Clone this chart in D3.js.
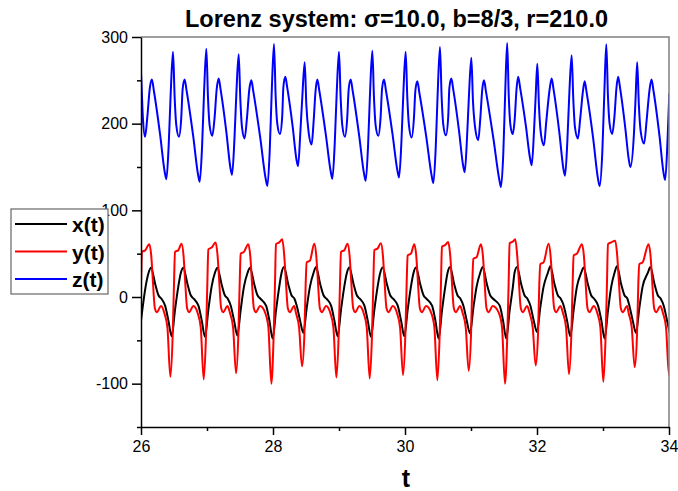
<!DOCTYPE html>
<html>
<head>
<meta charset="utf-8">
<script src="https://cdn.jsdelivr.net/npm/d3@7"></script>
<style>
  body { margin: 0; background: #fff; }
  svg { font-family: "Liberation Sans", Arial, sans-serif; }
</style>
</head>
<body>
<script>
// values, [t, value]
const xSeries = [
  [25.970,-45],[26.020,-15],[26.070,12],[26.115,28],[26.152,33.8],[26.215,15],[26.265,2],[26.310,-2],[26.365,-10],[26.415,-27],
  [26.465,-45.4],[26.515,-15],[26.565,12],[26.604,28],[26.641,33.8],[26.704,15],[26.754,2],[26.799,-2],[26.870,-10],[26.920,-27],
  [26.970,-46],[27.020,-15],[27.070,12],[27.120,28],[27.157,33.8],[27.220,15],[27.270,2],[27.315,-2],[27.360,-10],[27.410,-27],
  [27.460,-44.6],[27.510,-15],[27.560,12],[27.615,28],[27.652,33.8],[27.715,15],[27.765,2],[27.810,-2],[27.895,-10],[27.945,-27],
  [27.995,-48],[28.045,-16],[28.095,12],[28.130,28],[28.167,34.6],[28.230,15],[28.280,2],[28.325,-2],[28.360,-10],[28.410,-27],
  [28.460,-41.5],[28.510,-13],[28.560,12],[28.615,28],[28.652,34.6],[28.715,15],[28.765,2],[28.810,-2],[28.880,-10],[28.930,-27],
  [28.980,-45.4],[29.030,-15],[29.080,12],[29.120,28],[29.157,34],[29.220,15],[29.270,2],[29.315,-2],[29.385,-10],[29.435,-27],
  [29.485,-46],[29.535,-15],[29.585,12],[29.625,28],[29.662,34],[29.725,15],[29.775,2],[29.820,-2],[29.890,-10],[29.940,-27],
  [29.990,-45.4],[30.040,-15],[30.090,12],[30.130,28],[30.167,34],[30.230,15],[30.280,2],[30.325,-2],[30.410,-10],[30.460,-27],
  [30.510,-48],[30.560,-16],[30.610,12],[30.645,28],[30.682,34.6],[30.745,15],[30.795,2],[30.840,-2],[30.885,-10],[30.935,-27],
  [30.985,-42],[31.035,-13],[31.085,12],[31.140,28],[31.177,34.6],[31.240,15],[31.290,2],[31.335,-2],[31.435,-10],[31.485,-27],
  [31.535,-48],[31.585,-16],[31.635,12],[31.660,28],[31.697,34.6],[31.760,15],[31.810,2],[31.855,-2],[31.900,-10],[31.950,-27],
  [32.000,-40.4],[32.050,-12],[32.100,12],[32.165,28],[32.202,35.4],[32.265,15],[32.315,2],[32.360,-2],[32.405,-10],[32.455,-27],
  [32.505,-45.4],[32.555,-15],[32.605,12],[32.670,28],[32.707,34],[32.770,15],[32.820,2],[32.865,-2],[32.925,-10],[32.975,-27],
  [33.025,-48],[33.075,-16],[33.125,12],[33.175,28],[33.212,35.4],[33.275,15],[33.325,2],[33.370,-2],[33.400,-10],[33.450,-27],
  [33.500,-41.5],[33.550,-13],[33.600,12],[33.680,28],[33.717,34.6],[33.780,15],[33.830,2],[33.875,-2],[33.920,-10],[33.970,-27],
  [34.020,-45]
];

const ySeries = [
  [25.900,-35],[25.945,-90],[25.980,-44],[26.000,15],[26.015,52],[26.065,54],[26.125,61],[26.155,48],[26.175,25],[26.210,-13],[26.240,-17.5],[26.305,-10.5],[26.355,-19],
  [26.400,-35],[26.445,-92],[26.480,-44],[26.500,15],[26.515,52],[26.565,54],[26.614,61.5],[26.644,48],[26.664,25],[26.699,-13],[26.729,-17.5],[26.794,-10.5],[26.860,-19],
  [26.905,-35],[26.950,-95],[26.985,-44],[27.005,15],[27.020,55],[27.070,57],[27.130,63],[27.160,48],[27.180,25],[27.215,-13],[27.245,-17.5],[27.310,-10.5],[27.350,-19],
  [27.395,-35],[27.440,-88],[27.475,-44],[27.495,15],[27.510,50],[27.560,52],[27.625,61],[27.655,48],[27.675,25],[27.710,-13],[27.740,-17.5],[27.805,-10.5],[27.885,-19],
  [27.930,-35],[27.975,-100],[28.010,-44],[28.030,15],[28.045,61],[28.095,63],[28.140,66.5],[28.170,48],[28.190,25],[28.225,-13],[28.255,-17.5],[28.320,-10.5],[28.350,-19],
  [28.395,-35],[28.440,-80],[28.475,-44],[28.495,15],[28.510,40],[28.560,42],[28.625,61.5],[28.655,48],[28.675,25],[28.710,-13],[28.740,-17.5],[28.805,-10.5],[28.870,-19],
  [28.915,-35],[28.960,-93],[28.995,-44],[29.015,15],[29.030,52],[29.080,54],[29.130,61.5],[29.160,48],[29.180,25],[29.215,-13],[29.245,-17.5],[29.310,-10.5],[29.375,-19],
  [29.420,-35],[29.465,-94],[29.500,-44],[29.520,15],[29.535,54],[29.585,56],[29.635,62],[29.665,48],[29.685,25],[29.720,-13],[29.750,-17.5],[29.815,-10.5],[29.880,-19],
  [29.925,-35],[29.970,-90],[30.005,-44],[30.025,15],[30.040,48],[30.090,50],[30.140,61],[30.170,48],[30.190,25],[30.225,-13],[30.255,-17.5],[30.320,-10.5],[30.400,-19],
  [30.445,-35],[30.490,-96],[30.525,-44],[30.545,15],[30.560,58],[30.610,60],[30.655,63.5],[30.685,48],[30.705,25],[30.740,-13],[30.770,-17.5],[30.835,-10.5],[30.875,-19],
  [30.920,-35],[30.965,-85],[31.000,-44],[31.020,15],[31.035,44],[31.085,46],[31.150,61],[31.180,48],[31.200,25],[31.235,-13],[31.265,-17.5],[31.330,-10.5],[31.425,-19],
  [31.470,-35],[31.515,-100],[31.550,-44],[31.570,15],[31.585,62],[31.635,64],[31.670,66.5],[31.700,48],[31.720,25],[31.755,-13],[31.785,-17.5],[31.850,-10.5],[31.890,-19],
  [31.935,-35],[31.980,-79],[32.015,-44],[32.035,15],[32.050,38],[32.100,40],[32.175,61.5],[32.205,48],[32.225,25],[32.260,-13],[32.290,-17.5],[32.355,-10.5],[32.395,-19],
  [32.440,-35],[32.485,-89],[32.520,-44],[32.540,15],[32.555,48],[32.605,50],[32.680,61],[32.710,48],[32.730,25],[32.765,-13],[32.795,-17.5],[32.860,-10.5],[32.915,-19],
  [32.960,-35],[33.005,-98],[33.040,-44],[33.060,15],[33.075,61],[33.125,63],[33.185,65],[33.215,48],[33.235,25],[33.270,-13],[33.300,-17.5],[33.365,-10.5],[33.390,-19],
  [33.435,-35],[33.480,-81],[33.515,-44],[33.535,15],[33.550,38],[33.600,40],[33.690,61],[33.720,48],[33.740,25],[33.775,-13],[33.805,-17.5],[33.870,-10.5],[33.910,-19],
  [33.955,-35],[34.000,-90],[34.035,-44]
];

const zSeries = [
  [25.930,180],[25.950,235],[25.980,285],[26.005,250],[26.030,205],[26.062,185],[26.095,207],[26.135,242],[26.165,251],[26.195,238],[26.290,187],[26.360,144],[26.385,136],
  [26.420,176],[26.450,235],[26.485,283],[26.510,230],[26.535,198],[26.575,185],[26.610,207],[26.631,240],[26.661,251],[26.691,238],[26.791,185.5],[26.865,141],[26.890,133],
  [26.925,173],[26.955,235],[26.990,286.5],[27.015,230],[27.040,198],[27.080,186],[27.115,207],[27.147,240],[27.177,252],[27.207,239],[27.294,190],[27.355,149],[27.380,141],
  [27.415,181],[27.445,235],[27.480,280],[27.505,228],[27.530,196],[27.570,183],[27.605,206],[27.642,240],[27.672,250],[27.702,237],[27.809,182.5],[27.890,136],[27.915,128],
  [27.950,168],[27.980,235],[28.015,292],[28.040,232],[28.065,200],[28.105,188],[28.140,209],[28.157,242],[28.187,254],[28.217,241],[28.299,196],[28.355,159],[28.380,151],
  [28.415,191],[28.445,232],[28.480,271],[28.505,222],[28.540,190],[28.585,176],[28.615,202],[28.645,238],[28.672,251],[28.702,238],[28.801,187],[28.875,144.5],[28.900,136.5],
  [28.935,176.5],[28.965,235],[29.000,283],[29.025,230],[29.050,198],[29.090,185],[29.125,207],[29.147,240],[29.177,251],[29.207,238],[29.306,186],[29.380,142],[29.405,134],
  [29.440,174],[29.470,235],[29.505,284],[29.530,230],[29.555,198],[29.595,186],[29.630,207],[29.652,240],[29.682,251],[29.712,238],[29.811,188],[29.885,146],[29.910,138],
  [29.945,178],[29.975,235],[30.010,283],[30.035,230],[30.060,198],[30.100,184],[30.135,206],[30.157,238],[30.187,249],[30.217,236],[30.324,184],[30.405,139.5],[30.430,131.5],
  [30.465,171.5],[30.495,235],[30.530,288.5],[30.555,231],[30.580,199],[30.620,186.5],[30.655,208],[30.672,241],[30.702,252],[30.732,239],[30.819,191.5],[30.880,152],[30.905,144],
  [30.940,184],[30.970,234],[31.005,276],[31.030,226],[31.065,194],[31.110,181],[31.140,205],[31.170,239],[31.197,250],[31.227,237],[31.341,182],[31.430,135],[31.455,127],
  [31.490,167],[31.518,235],[31.548,293],[31.572,232],[31.598,198],[31.632,188],[31.662,205],[31.690,240],[31.715,254],[31.745,241],[31.833,196.5],[31.895,160],[31.920,152],
  [31.955,192],[31.980,232],[32.005,269],[32.030,220],[32.060,188],[32.105,175],[32.140,202],[32.192,240],[32.222,252],[32.252,239],[32.339,189.5],[32.400,148],[32.425,140],
  [32.460,180],[32.490,235],[32.525,279],[32.550,228],[32.575,196],[32.620,183],[32.655,206],[32.697,238],[32.722,249],[32.752,236],[32.853,182],[32.925,136],[32.950,128],
  [32.990,168],[33.020,235],[33.050,291.5],[33.075,232],[33.100,200],[33.140,188],[33.172,207],[33.205,242],[33.229,254],[33.259,241],[33.337,195.5],[33.392,158],[33.415,150],
  [33.470,190],[33.495,232],[33.518,271],[33.543,222],[33.573,190],[33.623,177],[33.660,203],[33.705,239],[33.735,251],[33.765,238],[33.855,186.5],[33.918,143],[33.942,135],
  [33.978,181],[34.005,235]
];

const tTicks = [26, 28, 30, 32, 34];
const tMinorTicks = [27, 29, 31, 33];
const valueTicks = [300, 200, 100, 0, -100];
const valueMinorTicks = [250, 150, 50, -50, -150];
const seriesNames = ["x(t)", "y(t)", "z(t)"];
const seriesColors = ["#000000", "#ff0000", "#0000ff"];

const width = 678, height = 491;
const plotLeft = 141, plotRight = 669, plotTop = 37, plotBottom = 427;

const svg = d3.select("body").append("svg")
  .attr("width", width)
  .attr("height", height);

const xScale = d3.scaleLinear().domain([26, 34]).range([plotLeft, plotRight]);
const yScale = d3.scaleLinear().domain([-150, 300]).range([plotBottom, plotTop]);

svg.append("clipPath").attr("id", "plot-clip")
  .append("rect")
  .attr("x", plotLeft).attr("y", plotTop)
  .attr("width", plotRight - plotLeft).attr("height", plotBottom - plotTop);

const line = d3.line()
  .x((d) => xScale(d[0]))
  .y((d) => yScale(d[1]))
  .curve(d3.curveMonotoneX);

const plot = svg.append("g").attr("clip-path", "url(#plot-clip)");
[xSeries, ySeries, zSeries].forEach((s, i) => {
  plot.append("path")
    .datum(s)
    .attr("d", line)
    .attr("fill", "none")
    .attr("stroke", seriesColors[i])
    .attr("stroke-width", 2)
    .attr("stroke-linejoin", "round");
});

// frame: gray top/right, black axes
svg.append("path")
  .attr("d", `M${plotLeft},${plotTop}H${plotRight}V${plotBottom}`)
  .attr("fill", "none")
  .attr("stroke", "#808080")
  .attr("stroke-width", 1.5);

// plain hyphen for negatives, like the original
const plainNumber = (d) => String(d);

svg.append("g")
  .attr("transform", `translate(0,${plotBottom})`)
  .call(d3.axisBottom(xScale).tickValues(tTicks).tickFormat(plainNumber)
    .tickSize(8).tickSizeOuter(0).tickPadding(6));
svg.append("g")
  .attr("transform", `translate(0,${plotBottom})`)
  .call(d3.axisBottom(xScale).tickValues(tMinorTicks).tickSize(4).tickFormat(""))
  .call((g) => g.select(".domain").remove());

svg.append("g")
  .attr("transform", `translate(${plotLeft},0)`)
  .call(d3.axisLeft(yScale).tickValues(valueTicks).tickFormat(plainNumber)
    .tickSize(9).tickSizeOuter(0).tickPadding(4));
svg.append("g")
  .attr("transform", `translate(${plotLeft},0)`)
  .call(d3.axisLeft(yScale).tickValues(valueMinorTicks).tickSize(4).tickFormat(""))
  .call((g) => g.select(".domain").remove());

svg.selectAll(".domain, .tick line")
  .attr("stroke", "#000")
  .attr("stroke-width", 1.5);
svg.selectAll(".tick text")
  .attr("fill", "#000")
  .style("font-size", "16px");

svg.append("text")
  .text("Lorenz system: σ=10.0, b=8/3, r=210.0")
  .attr("x", 185)
  .attr("y", 27)
  .style("font-size", "23.5px")
  .style("font-weight", "bold");

svg.append("text")
  .text("t")
  .attr("x", 406)
  .attr("y", 487)
  .attr("text-anchor", "middle")
  .style("font-size", "25px")
  .style("font-weight", "bold");

// legend, drawn over the tick labels like the original
const legend = svg.append("g");
legend.append("rect")
  .attr("x", 11).attr("y", 209)
  .attr("width", 97).attr("height", 85)
  .attr("fill", "#fff")
  .attr("stroke", "#666")
  .attr("stroke-width", 1.2);

legend.selectAll("line")
  .data(seriesNames)
  .join("line")
  .attr("x1", 15).attr("x2", 67)
  .attr("y1", (d, i) => 224 + i * 27.5)
  .attr("y2", (d, i) => 224 + i * 27.5)
  .attr("stroke", (d, i) => seriesColors[i])
  .attr("stroke-width", 2);

legend.selectAll("text")
  .data(seriesNames)
  .join("text")
  .text((d) => d)
  .attr("x", 72)
  .attr("y", (d, i) => 232 + i * 27.5)
  .style("font-size", "21px")
  .style("font-weight", "bold");
</script>
</body>
</html>
